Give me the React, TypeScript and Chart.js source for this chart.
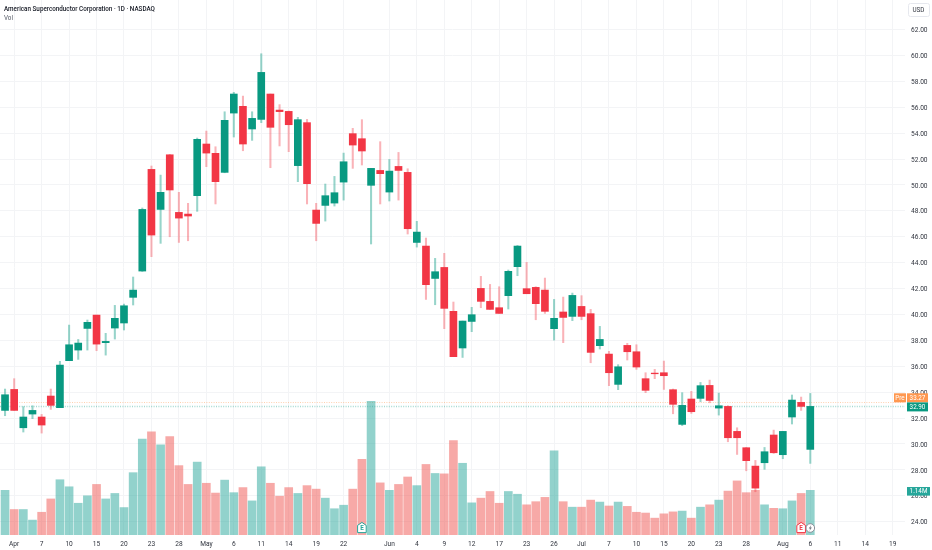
import React, { useEffect, useRef } from "react";
import { Chart, registerables } from "chart.js";

Chart.register(...registerables);

const opens = [32.59,34.21,31.25,32.31,32.08,33.7,32.8,36.43,37.25,38.92,39.95,37.82,38.95,39.34,41.32,43.35,51.2,48.11,52.33,47.88,47.75,49.17,53.16,52.44,50.97,55.55,56.07,54.32,55.06,57.02,55.78,55.68,51.49,54.81,48.06,48.42,48.6,50.22,53.96,53.57,49.97,51.12,49.45,51.43,50.97,45.56,45.28,42.78,43.63,40.24,37.41,39.46,42.01,41.01,40.52,41.45,43.69,41.99,42.09,41.88,38.9,40.19,39.85,40.62,40.06,37.59,36.94,34.6,37.61,37.12,35.04,35.47,35.5,34.19,31.51,33.47,33.52,34.52,32.77,32.9,30.97,29.71,28.29,28.55,30.69,29.17,32.08,33.21,29.58];
const closes = [33.8,32.59,32.08,32.59,31.46,32.98,36.09,37.66,37.79,39.39,37.71,37.92,39.7,40.67,41.88,48.11,46.13,49.43,49.61,47.44,47.6,53.52,52.46,50.25,54.99,57.02,53.16,55.14,58.69,54.45,55.66,54.65,55.04,50.1,47.03,49.17,49.4,51.79,53.08,52.62,51.28,50.87,51.07,51.12,46.62,46.36,42.3,43.3,40.47,36.74,39.49,39.98,41.01,40.39,40.08,43.33,45.28,41.6,40.83,40.24,39.7,39.77,41.47,39.85,37.07,38.07,35.5,35.96,37.12,35.94,34.14,35.42,35.27,33.06,32.98,32.49,34.5,33.36,32.95,30.48,30.48,28.71,26.59,29.4,29.32,30.97,33.39,32.9,32.9];
const highs = [34.24,35.04,32.88,32.95,32.28,34.24,36.38,39.18,38.07,39.57,39.95,38.54,40.7,40.8,42.89,48.22,51.46,50.76,52.36,49.43,48.58,53.62,54.16,52.95,55.65,57.15,56.86,55.65,60.13,57.02,56.2,55.71,55.22,55.06,48.58,50.07,50.66,52.46,54.37,55.04,51.28,53.34,51.97,52.51,51.25,47.19,45.9,44.33,44.72,40.96,39.49,40.55,42.94,42.32,42.14,43.43,45.33,44.02,42.14,42.81,41.16,41.34,41.65,41.45,40.39,39.08,37.15,36.12,37.77,37.66,35.5,35.76,36.4,34.24,33.96,34.06,34.75,34.93,33.93,32.95,31.25,29.73,28.73,29.73,31.07,30.97,33.78,33.62,33.9];
const lows = [32.18,32.59,30.92,31.95,30.84,32.67,32.8,36.43,36.53,37.25,37.2,36.86,38.1,38.8,40.73,43.32,44.46,45.49,46.0,45.56,45.69,47.96,51.41,48.53,50.94,53.7,52.64,53.44,54.81,51.33,53.01,52.57,50.25,48.53,45.69,47.21,48.37,48.83,51.28,51.54,45.44,48.53,48.76,48.83,46.21,45.2,41.16,40.75,38.9,36.74,36.68,38.67,40.52,40.39,40.08,40.42,42.99,41.6,39.59,40.08,38.02,37.82,39.52,39.59,36.27,37.33,34.5,34.19,36.48,35.76,33.96,35.04,34.21,32.33,31.41,32.36,33.26,33.18,32.23,30.17,29.19,27.93,26.31,28.04,29.27,28.86,31.54,32.59,28.5];
const volumes = [1.14,0.65,0.65,0.38,0.58,0.92,1.41,1.23,0.81,1.0,1.29,0.92,1.06,0.7,1.59,2.45,2.63,2.3,2.51,1.77,1.29,1.86,1.32,1.07,1.4,1.08,1.21,0.87,1.74,1.32,0.99,1.21,1.06,1.26,1.17,0.94,0.67,0.76,1.17,1.93,3.41,1.33,1.14,1.29,1.48,1.26,1.8,1.57,1.56,2.41,1.83,0.82,0.94,1.11,0.81,1.11,1.04,0.77,0.85,0.96,2.15,0.85,0.71,0.71,0.89,0.84,0.74,0.84,0.73,0.58,0.56,0.43,0.54,0.59,0.61,0.43,0.71,0.77,0.89,1.12,1.38,1.08,1.14,0.77,0.68,0.67,0.87,1.06,1.14];

const xTickIndex = [1,4,7,10,13,16,19,22,25,28,31,34,37,42,45,48,51,54,57,60,63,66,69,72,75,78,81,85,88,91,94,97];
const xTickText = ["Apr","7","10","15","20","23","28","May","6","11","14","19","22","Jun","4","9","12","17","23","26","Jul","7","10","15","20","23","28","Aug","6","11","14","19"];
const yTickValues = [24,26,28,30,32,34,36,38,40,42,44,46,48,50,52,54,56,58,60,62];

const titleText = "American Superconductor Corporation · 1D · NASDAQ";
const indicatorText = "Vol";
const currencyText = "USD";
const prePrice = 33.27;
const lastPrice = 32.9;
const lastVolume = 1.14;
const earningsPast = 39;
const earningsNext = 87;
const dividendIndex = 88;

const UP = "#089981";
const DOWN = "#f23645";
const FONT = "Roboto, sans-serif";

function house(ctx: CanvasRenderingContext2D, x: number, y: number, color: string) {
  ctx.save();
  ctx.beginPath();
  ctx.moveTo(x, y - 5.6);
  ctx.lineTo(x + 4.3, y - 2.6);
  ctx.lineTo(x + 4.3, y + 4.6);
  ctx.lineTo(x - 4.3, y + 4.6);
  ctx.lineTo(x - 4.3, y - 2.6);
  ctx.closePath();
  ctx.fillStyle = "#ffffff";
  ctx.fill();
  ctx.lineWidth = 1;
  ctx.strokeStyle = color;
  ctx.stroke();
  ctx.fillStyle = color;
  ctx.font = `bold 6.3px ${FONT}`;
  ctx.textAlign = "center";
  ctx.textBaseline = "middle";
  ctx.fillText("E", x, y + 0.5);
  ctx.restore();
}

const overlay = {
  id: "overlay",
  beforeDatasetsDraw(chart: any) {
    const { ctx, chartArea, scales } = chart;
    ctx.save();
    ctx.lineWidth = 1;
    ctx.setLineDash([1, 1.4]);
    ctx.strokeStyle = "rgba(255,152,80,0.45)";
    ctx.beginPath();
    const py = Math.round(scales.y.getPixelForValue(prePrice)) + 0.5;
    ctx.moveTo(chartArea.left, py);
    ctx.lineTo(chartArea.right, py);
    ctx.stroke();
    ctx.lineWidth = 1.4;
    ctx.strokeStyle = "rgba(8,153,129,0.36)";
    ctx.beginPath();
    const ly = Math.round(scales.y.getPixelForValue(lastPrice)) + 0.5;
    ctx.moveTo(chartArea.left, ly);
    ctx.lineTo(chartArea.right, ly);
    ctx.stroke();
    ctx.restore();
  },
  afterDraw(chart: any) {
    const { ctx, scales } = chart;
    const y = scales.y;
    const v = scales.v;
    const x = scales.x;
    ctx.save();
    ctx.textBaseline = "middle";
    ctx.textAlign = "left";
    ctx.font = `500 6.3px ${FONT}`;
    ctx.fillStyle = "#131722";
    ctx.fillText(titleText, 4, 9);
    ctx.font = `6.3px ${FONT}`;
    ctx.fillStyle = "#555a66";
    ctx.fillText(indicatorText, 4, 18);

    ctx.strokeStyle = "#e6e8ee";
    ctx.lineWidth = 1;
    ctx.beginPath();
    ctx.roundRect(908.5, 3.5, 21, 13, 2);
    ctx.stroke();
    ctx.fillStyle = "#30343e";
    ctx.textAlign = "center";
    ctx.fillText(currencyText, 918.5, 10);

    const py = y.getPixelForValue(prePrice);
    ctx.fillStyle = "#ff9850";
    ctx.fillRect(894, py - 8.3, 12, 9);
    ctx.fillRect(907, py - 8.3, 21, 9);
    ctx.fillStyle = "#ffffff";
    ctx.fillText("Pre", 900, py - 3.5);
    ctx.fillText(prePrice.toFixed(2), 917.5, py - 3.5);

    const ly = y.getPixelForValue(lastPrice);
    ctx.fillStyle = UP;
    ctx.fillRect(907, ly - 4, 21, 9);
    ctx.fillStyle = "#ffffff";
    ctx.fillText(lastPrice.toFixed(2), 917.5, ly + 1);

    const vy = v.getPixelForValue(lastVolume);
    ctx.fillStyle = "#26a69a";
    ctx.fillRect(907, vy - 3.3, 23, 8.6);
    ctx.fillStyle = "#ffffff";
    ctx.fillText(lastVolume.toFixed(2) + "M", 918.5, vy + 1.3);

    const base = 528;
    house(ctx, x.getPixelForValue(earningsPast), base, "#26a69a");
    house(ctx, x.getPixelForValue(earningsNext), base, "#f23645");
    const dx = x.getPixelForValue(dividendIndex);
    ctx.beginPath();
    ctx.arc(dx, base, 4.3, 0, Math.PI * 2);
    ctx.fillStyle = "#ffffff";
    ctx.fill();
    ctx.strokeStyle = "#8a8e98";
    ctx.lineWidth = 1;
    ctx.stroke();
    ctx.fillStyle = "#70747e";
    ctx.beginPath();
    ctx.moveTo(dx + 0.9, base - 3);
    ctx.lineTo(dx - 1.6, base + 0.5);
    ctx.lineTo(dx - 0.1, base + 0.5);
    ctx.lineTo(dx - 0.9, base + 3);
    ctx.lineTo(dx + 1.6, base - 0.6);
    ctx.lineTo(dx + 0.1, base - 0.6);
    ctx.closePath();
    ctx.fill();
    ctx.restore();
  },
};

export default function App() {
  const ref = useRef<HTMLCanvasElement>(null);
  useEffect(() => {
    const isUp = (i: number) => closes[i] >= opens[i];
    const chart = new Chart(ref.current as HTMLCanvasElement, {
      type: "bar",
      data: {
        datasets: [
          {
            label: "Candle bodies",
            data: opens.map((o, i) => ({ x: i, y: [o, closes[i]] })),
            backgroundColor: opens.map((_, i) => (isUp(i) ? UP : DOWN)),
            barThickness: 7,
            grouped: false,
            order: 1,
            yAxisID: "y",
          },
          {
            label: "Wicks",
            data: lows.map((l, i) => ({ x: i, y: [l, highs[i]] })),
            backgroundColor: opens.map((_, i) => (isUp(i) ? "rgba(8,153,129,0.42)" : "rgba(242,54,69,0.38)")),
            barThickness: 1.4,
            grouped: false,
            order: 2,
            yAxisID: "y",
          },
          {
            label: "Vol",
            data: volumes.map((val, i) => ({ x: i, y: val })),
            backgroundColor: opens.map((_, i) => (isUp(i) ? "rgba(38,166,154,0.5)" : "rgba(239,83,80,0.5)")),
            barThickness: 8,
            grouped: false,
            order: 3,
            yAxisID: "v",
          },
        ],
      } as any,
      options: {
        animation: false,
        responsive: false,
        maintainAspectRatio: false,
        layout: { padding: 0 },
        plugins: { legend: { display: false }, tooltip: { enabled: false } },
        scales: {
          x: {
            type: "linear",
            offset: false,
            min: -0.55,
            max: 98.35,
            afterBuildTicks: (s: any) => {
              s.ticks = xTickIndex.map((value) => ({ value }));
            },
            afterFit: (s: any) => {
              s.height = 15;
              s.paddingLeft = 0;
              s.paddingRight = 0;
            },
            grid: { color: "#f3f4f6", drawTicks: false, offset: false },
            border: { display: false },
            ticks: {
              autoSkip: false,
              maxRotation: 0,
              padding: 5,
              color: "#30343e",
              font: { family: FONT, size: 6.6 },
              callback: (val: any) => xTickText[xTickIndex.indexOf(Number(val))] ?? "",
            },
          },
          y: {
            position: "right",
            min: 22.97,
            max: 64.28,
            afterBuildTicks: (s: any) => {
              s.ticks = yTickValues.map((value) => ({ value }));
            },
            afterFit: (s: any) => {
              s.width = 27;
              s.paddingTop = 0;
              s.paddingBottom = 0;
            },
            grid: { color: "#f3f4f6", drawTicks: false },
            border: { display: false },
            ticks: {
              padding: 6,
              color: "#30343e",
              font: { family: FONT, size: 6.6, lineHeight: "2px" },
              callback: (val: any) => ["", Number(val).toFixed(2)],
            },
          },
          v: {
            display: false,
            position: "left",
            min: 0,
            max: 13.65,
          },
        },
      } as any,
      plugins: [overlay],
    });
    return () => chart.destroy();
  }, []);
  return (
    <div style={{ position: "fixed", left: 0, top: 0, width: 932, height: 550, background: "#fff" }}>
      <canvas ref={ref} width={932} height={550} style={{ display: "block", width: 932, height: 550 }} />
    </div>
  );
}
